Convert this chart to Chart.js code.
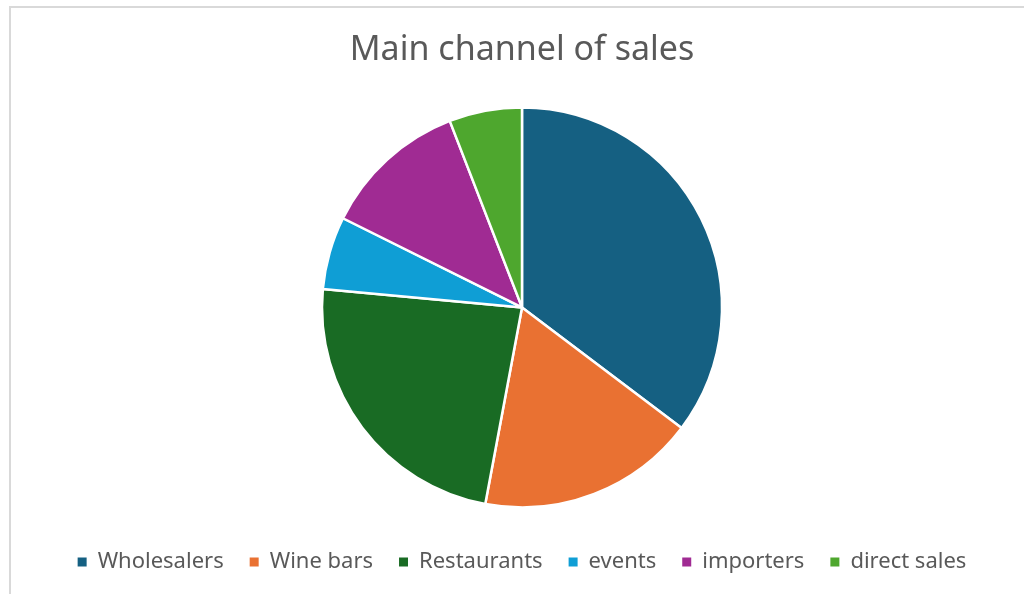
<!DOCTYPE html>
<html>
<head>
<meta charset="utf-8">
<script src="https://cdn.jsdelivr.net/npm/chart.js@4"></script>
<style>
  html, body { margin: 0; padding: 0; background: #fff; overflow: hidden; }
  #frame {
    position: absolute; left: 9px; top: 6px; width: 1100px; height: 700px;
    border-left: 2px solid #d9d9d9; border-top: 2px solid #d9d9d9;
  }
  #wrap { position: absolute; left: 10px; top: 0; width: 1024px; height: 594px; }
</style>
</head>
<body>
<div id="frame"></div>
<div id="wrap"><canvas id="salesChart"></canvas></div>
<script>
// survey answers per sales channel
const channels = ['Wholesalers', 'Wine bars', 'Restaurants', 'events', 'importers', 'direct sales'];
const answers = [6, 3, 4, 1, 2, 1];
const sliceColors = ['#156082', '#E97132', '#196B24', '#0F9ED5', '#A02B93', '#4EA72E'];

const font = "'Noto Sans', sans-serif";
const pieLabels = Chart.overrides.pie.plugins.legend.labels.generateLabels;

const ctx = document.getElementById('salesChart').getContext('2d');
const salesChart = new Chart(ctx, {
  type: 'pie',
  data: {
    labels: channels,
    datasets: [{
      data: answers,
      backgroundColor: sliceColors,
      borderColor: '#ffffff',
      borderWidth: 2.5,
      radius: 200
    }]
  },
  options: {
    responsive: true,
    maintainAspectRatio: false,
    animation: false,
    layout: { padding: { top: 0, bottom: 11, left: 0, right: 0 } },
    plugins: {
      title: {
        display: true,
        text: 'Main channel of sales',
        color: '#595959',
        font: { family: font, size: 34, weight: 'normal' },
        padding: { top: 30, bottom: 19 }
      },
      legend: {
        position: 'bottom',
        labels: {
          color: '#595959',
          font: { family: font, size: 22 },
          boxWidth: 9,
          boxHeight: 9,
          padding: 26,
          // plain filled squares, no white outline
          generateLabels: (chart) => pieLabels(chart).map(l => ({ ...l, lineWidth: 0 }))
        }
      },
      tooltip: { enabled: false }
    }
  }
});
</script>
</body>
</html>
